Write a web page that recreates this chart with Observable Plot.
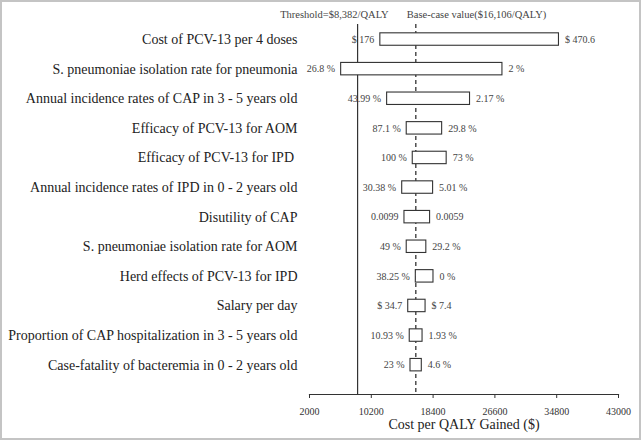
<!DOCTYPE html>
<html>
<head>
<meta charset="utf-8">
<script src="https://cdn.jsdelivr.net/npm/d3@7"></script>
<script src="https://cdn.jsdelivr.net/npm/@observablehq/plot@0.6"></script>
<style>
  html, body { margin: 0; padding: 0; background: #fff; }
  #wrap { position: relative; width: 641px; height: 440px; overflow: hidden; }
  #border { position: absolute; left: 0; top: 0; width: 637px; height: 436px; border: 2px solid #c4c4c4; pointer-events: none; }
</style>
</head>
<body>
<div id="wrap"><div id="border"></div></div>
<script>
const categories = [
  "Cost of PCV-13 per 4 doses",
  "S. pneumoniae isolation rate for pneumonia",
  "Annual incidence rates of CAP in 3 - 5 years old",
  "Efficacy of PCV-13 for AOM",
  "Efficacy of PCV-13 for IPD\u00a0",
  "Annual incidence rates of IPD in 0 - 2 years old",
  "Disutility of CAP",
  "S. pneumoniae isolation rate for AOM",
  "Herd effects of PCV-13 for IPD",
  "Salary per day",
  "Proportion of CAP hospitalization in 3 - 5 years old",
  "Case-fatality of bacteremia in 0 - 2 years old"
];
const lowICER  = [11400, 6200, 12300, 14900, 15700, 14300, 14600, 14900, 16106, 15100, 15300, 15400];
const highICER = [35100, 27600, 23300, 19600, 20200, 18400, 18000, 17500, 18450, 17400, 17000, 16900];
const leftLabels  = ["$ 176", "26.8 %", "43.99 %", "87.1 %", "100 %", "30.38 %", "0.0099", "49 %", "38.25 %", "$ 34.7", "10.93 %", "23 %"];
const rightLabels = ["$ 470.6", "2 %", "2.17 %", "29.8 %", "73 %", "5.01 %", "0.0059", "29.2 %", "0 %", "$ 7.4", "1.93 %", "4.6 %"];
const xTicks = [2000, 10200, 18400, 26600, 34800, 43000];
const threshold = 8382;
const baseCase = 16106;
const thresholdText = "Threshold=$8,382/QALY";
const baseCaseText = "Base-case value($16,106/QALY)";
const xTitle = "Cost per QALY Gained ($)";

const rows = categories.map((c, i) => ({
  cat: c, lo: lowICER[i], hi: highICER[i], left: leftLabels[i], right: rightLabels[i]
}));

const serif = "'Liberation Serif', 'Times New Roman', serif";

const chart = Plot.plot({
  width: 641,
  height: 440,
  marginLeft: 309,
  marginRight: 23,
  marginTop: 24,
  marginBottom: 46,
  insetTop: 2.9,
  insetBottom: 17.2,
  style: { fontFamily: serif, background: "transparent", overflow: "visible" },
  x: { domain: [2000, 43000] },
  y: { domain: categories, paddingInner: 0.58, paddingOuter: 0.2, round: false },
  marks: [
    Plot.frame({ anchor: "bottom", stroke: "#333", strokeWidth: 1.2 }),
    Plot.axisX({
      ticks: xTicks, tickFormat: d => String(d), tickSize: 4, tickPadding: 9,
      fontSize: 10, fill: "#333", stroke: "#333", label: null
    }),
    Plot.axisY({ tickSize: 0, tickPadding: 12, fontSize: 14, fill: "#222", label: null }),
    Plot.text([xTitle], { frameAnchor: "bottom", lineAnchor: "middle", dy: 30.5, fontSize: 14, fill: "#222" }),
    Plot.ruleX([threshold], { stroke: "#333", strokeWidth: 1.2 }),
    Plot.ruleX([baseCase], { stroke: "#333", strokeWidth: 1.3, strokeDasharray: "4,3" }),
    Plot.text([thresholdText], { x: () => threshold, frameAnchor: "top", lineAnchor: "middle", dy: -10, dx: 31, textAnchor: "end", fontSize: 10.5, fill: "#444" }),
    Plot.text([baseCaseText], { x: () => baseCase, frameAnchor: "top", lineAnchor: "middle", dy: -10, dx: -9, textAnchor: "start", fontSize: 10.5, fill: "#444" }),
    Plot.barX(rows, { y: "cat", x1: "lo", x2: "hi", fill: "white", stroke: "#333", strokeWidth: 1.1 }),
    Plot.text(rows, { y: "cat", x: "lo", text: "left", textAnchor: "end", dx: -6, fontSize: 10, fill: "#444" }),
    Plot.text(rows, { y: "cat", x: "hi", text: "right", textAnchor: "start", dx: 6, fontSize: 10, fill: "#444" })
  ]
});
document.getElementById("wrap").prepend(chart);
</script>
</body>
</html>
